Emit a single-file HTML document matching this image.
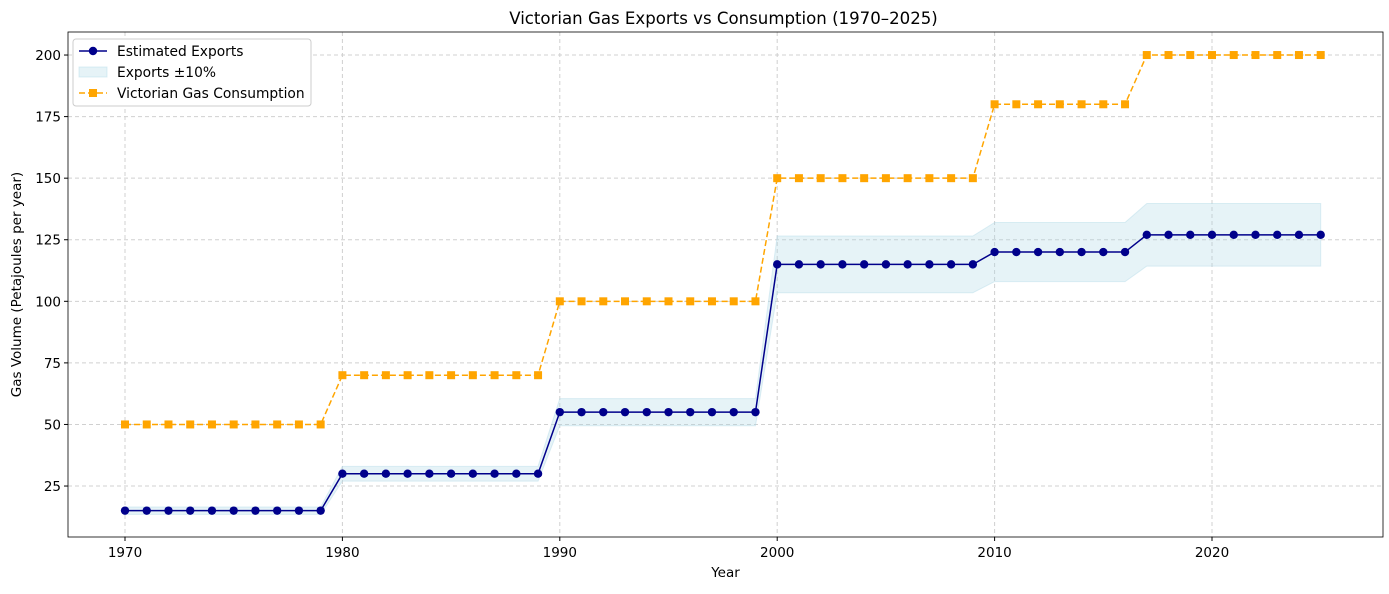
<!DOCTYPE html>
<html><head><meta charset="utf-8"><style>
body{margin:0;background:#fff;font-family:"DejaVu Sans",sans-serif}
</style></head><body>
<svg id="chart" width="1389" height="590" xmlns="http://www.w3.org/2000/svg" font-family="DejaVu Sans, sans-serif"></svg>
<script>
const years=[];for(let y=1970;y<=2025;y++)years.push(y);
const exportsVals=[15,15,15,15,15,15,15,15,15,15,30,30,30,30,30,30,30,30,30,30,55,55,55,55,55,55,55,55,55,55,115,115,115,115,115,115,115,115,115,115,120,120,120,120,120,120,120,127,127,127,127,127,127,127,127,127];
const consumptionVals=[50,50,50,50,50,50,50,50,50,50,70,70,70,70,70,70,70,70,70,70,100,100,100,100,100,100,100,100,100,100,150,150,150,150,150,150,150,150,150,150,180,180,180,180,180,180,180,200,200,200,200,200,200,200,200,200];
const xTicks=[1970,1980,1990,2000,2010,2020];
const yTicks=[25,50,75,100,125,150,175,200];
const svg=document.getElementById('chart');const NS='http://www.w3.org/2000/svg';
const L=68,R=1383,T=32,B=537;
const X=v=>125+(v-1970)*(1087/50);
const Y=v=>547.6-v*(431/175);
function el(t,a,p){const e=document.createElementNS(NS,t);for(const k in a)e.setAttribute(k,a[k]);(p||svg).appendChild(e);return e;}
function tx(s,a){const e=el('text',a);e.textContent=s;return e;}
xTicks.forEach(t=>{const g=el('line',{x1:X(t),x2:X(t),y1:T,y2:B,stroke:'#d0d0d0','stroke-dasharray':'4,3'});

el('line',{x1:X(t),x2:X(t),y1:B,y2:B+4,stroke:'#000'});
const l=tx(t,{x:X(t),y:B+20,'font-size':13.5,'text-anchor':'middle'});
});
yTicks.forEach(t=>{const g=el('line',{x1:L,x2:R,y1:Y(t),y2:Y(t),stroke:'#d0d0d0','stroke-dasharray':'4,3'});

el('line',{x1:L-4,x2:L,y1:Y(t),y2:Y(t),stroke:'#000'});
const l=tx(t,{x:L-7,y:Y(t)+5,'font-size':13.5,'text-anchor':'end'});
});
let up=years.map((y,i)=>X(y)+','+Y(exportsVals[i]*1.1)),dn=years.map((y,i)=>X(y)+','+Y(exportsVals[i]*0.9)).reverse();
const band=el('polygon',{points:up.concat(dn).join(' '),fill:'#add8e6','fill-opacity':0.3,stroke:'#add8e6','stroke-opacity':0.4});

const cl=el('polyline',{points:years.map((y,i)=>X(y)+','+Y(consumptionVals[i])).join(' '),fill:'none',stroke:'orange','stroke-width':1.5,'stroke-dasharray':'6,3'});

years.forEach((y,i)=>{const m=el('rect',{x:X(y)-4,y:Y(consumptionVals[i])-4,width:8,height:8,fill:'orange'});
});
const el2=el('polyline',{points:years.map((y,i)=>X(y)+','+Y(exportsVals[i])).join(' '),fill:'none',stroke:'#00008b','stroke-width':1.5});

years.forEach((y,i)=>{const m=el('circle',{cx:X(y),cy:Y(exportsVals[i]),r:4.2,fill:'#00008b'});
});
const fr=el('rect',{x:L,y:T,width:R-L,height:B-T,fill:'none',stroke:'#000','stroke-width':0.8});

const ti=tx('Victorian Gas Exports vs Consumption (1970–2025)',{x:(L+R)/2-2,y:24,'font-size':16.6,'text-anchor':'middle'});

const xl=tx('Year',{x:(L+R)/2,y:577,'font-size':13.5,'text-anchor':'middle'});

const yl=tx('Gas Volume (Petajoules per year)',{x:0,y:0,'font-size':13.5,'text-anchor':'middle',transform:`translate(21,${(T+B)/2}) rotate(-90)`});

const lg=el('rect',{x:73,y:39,width:238,height:67,fill:'#fff',stroke:'#ccc',rx:3});

el('line',{x1:79,x2:107,y1:51,y2:51,stroke:'#00008b','stroke-width':1.5});el('circle',{cx:93,cy:51,r:4.2,fill:'#00008b'});
let t1=tx('Estimated Exports',{x:117,y:56,'font-size':13.8});
el('rect',{x:79,y:67,width:28,height:10,fill:'#add8e6','fill-opacity':0.3,stroke:'#add8e6','stroke-opacity':0.4});
let t2=tx('Exports ±10%',{x:117,y:77,'font-size':13.8});
el('line',{x1:79,x2:107,y1:93,y2:93,stroke:'orange','stroke-width':1.5,'stroke-dasharray':'6,3'});el('rect',{x:89,y:89,width:8,height:8,fill:'orange'});
let t3=tx('Victorian Gas Consumption',{x:117,y:98,'font-size':13.8});
</script>
</body></html>
